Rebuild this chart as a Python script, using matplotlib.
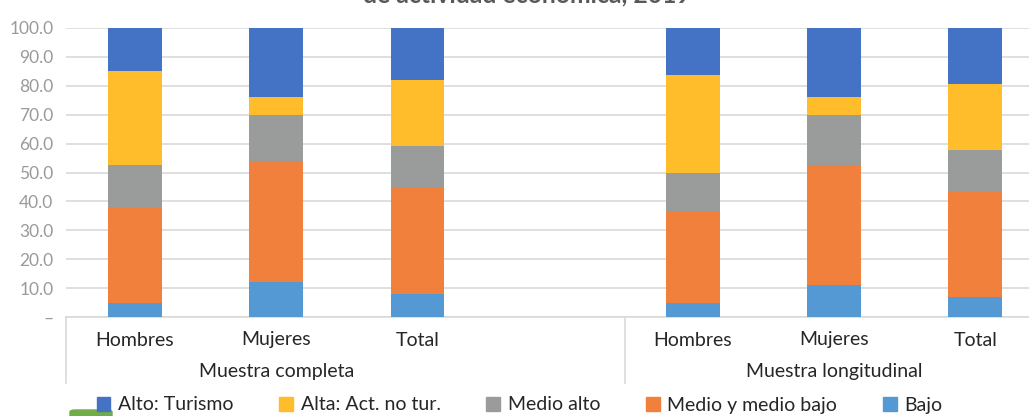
import matplotlib.pyplot as plt
from matplotlib.patches import FancyBboxPatch, Patch
import matplotlib.transforms as mtransforms

plt.rcParams['font.family'] = ['Lato', 'DejaVu Sans']

# Datos (porcentajes, apilados de abajo hacia arriba)
categorias = ['Hombres', 'Mujeres', 'Total', 'Hombres', 'Mujeres', 'Total']
grupos = ['Muestra completa', 'Muestra longitudinal']
series = ['Alto: Turismo', 'Alta: Act. no tur.', 'Medio alto', 'Medio y medio bajo', 'Bajo']
bajo = [5.0, 12.1, 8.1, 5.0, 11.0, 6.9]
medio_bajo = [32.7, 41.9, 36.5, 31.6, 41.6, 36.5]
medio_alto = [14.8, 16.0, 14.5, 13.2, 17.4, 14.3]
alta_no_tur = [32.5, 6.1, 22.8, 33.9, 6.1, 22.8]
alto_turismo = [15.0, 23.9, 18.1, 16.3, 23.9, 19.5]
yticks_lab = ['–', '10.0', '20.0', '30.0', '40.0', '50.0', '60.0', '70.0', '80.0', '90.0', '100.0']

colores = {'Alto: Turismo': '#4472C4', 'Alta: Act. no tur.': '#FFBC2B',
           'Medio alto': '#9A9C9C', 'Medio y medio bajo': '#F0803C', 'Bajo': '#5499D3'}

# posiciones de las barras (hueco entre grupos)
xpos = [0, 1, 2, 3.95, 4.95, 5.95]
ancho = 0.38

fig = plt.figure(figsize=(10.29, 4.16), dpi=100)
ax = fig.add_axes([66/1029, 1 - 317/416, 1 - 66/1029, (317 - 28)/416])

capas = [('Bajo', bajo), ('Medio y medio bajo', medio_bajo), ('Medio alto', medio_alto),
         ('Alta: Act. no tur.', alta_no_tur), ('Alto: Turismo', alto_turismo)]
base = [0.0] * len(xpos)
for nombre, vals in capas:
    ax.bar(xpos, vals, width=ancho, bottom=base, color=colores[nombre], zorder=3)
    base = [b + v for b, v in zip(base, vals)]

ax.set_xlim(-0.488, 6.33)
ax.set_ylim(0, 100)
ax.set_yticks(range(0, 101, 10))
ax.set_yticklabels(yticks_lab, fontsize=12.5, color='#9a9a9a')
ax.tick_params(axis='y', length=0, pad=9)
ax.set_xticks([])
ax.grid(axis='y', color='#d9d9d9', linewidth=1.2, zorder=0)
for s in ['top', 'right', 'left']:
    ax.spines[s].set_visible(False)
ax.spines['bottom'].set_color('#d9d9d9')
ax.spines['bottom'].set_linewidth(1.2)

# etiquetas de categoria y grupo
fs = 14
trans = mtransforms.blended_transform_factory(ax.transData, fig.transFigure)
for x, c in zip(xpos, categorias):
    ax.text(x, 1 - 340/416, c, transform=trans, ha='center', va='center',
            fontsize=fs, color='#262626')
ax.text(xpos[1], 1 - 371/416, grupos[0], transform=trans, ha='center', va='center',
        fontsize=fs, color='#262626')
ax.text(xpos[4], 1 - 371/416, grupos[1], transform=trans, ha='center', va='center',
        fontsize=fs, color='#262626')
for xs in [-0.488, 3.47]:
    ax.plot([xs, xs], [1 - 317/416, 1 - 383/416], transform=trans, color='#d9d9d9',
            linewidth=1.2, clip_on=False)

# titulo (cortado en la parte superior)
fig.text(0.512, 1 - 2/416, 'de actividad económica, 2019', ha='center', va='baseline',
         fontsize=17.8, fontweight='bold', color='#595959')

# leyenda
handles = [Patch(color=colores[n]) for n in series]
fig.legend(handles, series, loc='center', bbox_to_anchor=(0.505, 1 - 405/416), ncol=5,
           frameon=False, fontsize=fs, handlelength=0.7, handleheight=0.7,
           handletextpad=0.4, columnspacing=2.35, labelcolor='#262626')

# adorno verde en la esquina inferior
fig.patches.append(FancyBboxPatch((70/1029, 1 - 419/416), 42/1029, 9/416,
                                  boxstyle='round,pad=0,rounding_size=0.005',
                                  transform=fig.transFigure, color='#70AD47'))

plt.savefig('out.png', dpi=100)
